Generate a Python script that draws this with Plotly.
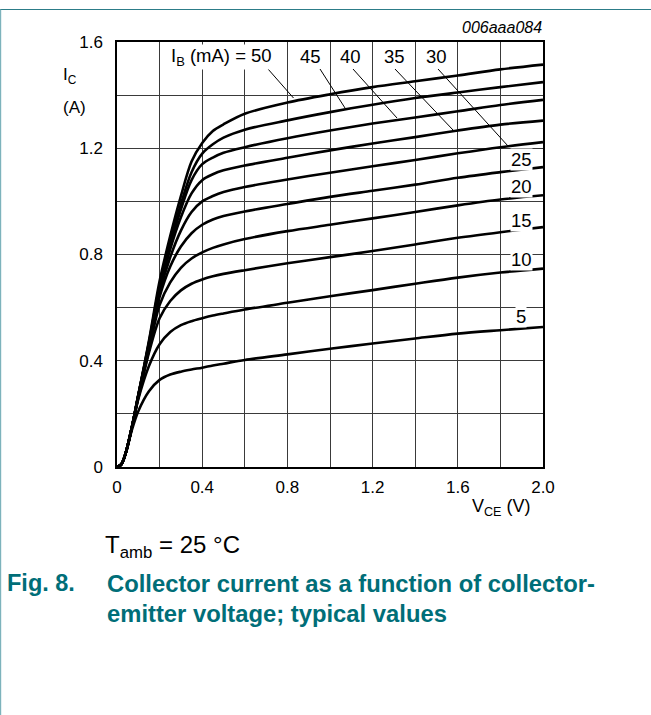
import plotly.graph_objects as go

# ---------------- data ----------------
vce = [0, 0.02, 0.04, 0.07, 0.1, 0.15, 0.2, 0.25, 0.3, 0.35, 0.4, 0.45, 0.5, 0.6,
       0.8, 1.0, 1.2, 1.4, 1.6, 1.8, 2.0]

ib_labels = [5, 10, 15, 20, 25, 30, 35, 40, 45, 50]

ic_5 = [0, 0.01, 0.05, 0.14, 0.21, 0.285, 0.328, 0.348, 0.359, 0.367, 0.374, 0.382, 0.389, 0.403,
        0.424, 0.445, 0.465, 0.484, 0.502, 0.515, 0.527]
ic_10 = [0, 0.01, 0.05, 0.15, 0.255, 0.38, 0.462, 0.508, 0.534, 0.549, 0.56, 0.57, 0.578, 0.593,
         0.618, 0.643, 0.666, 0.69, 0.713, 0.732, 0.747]
ic_15 = [0, 0.01, 0.05, 0.15, 0.26, 0.43, 0.56, 0.625, 0.665, 0.69, 0.706, 0.718, 0.727, 0.741,
         0.767, 0.79, 0.813, 0.838, 0.863, 0.884, 0.903]
ic_20 = [0, 0.01, 0.05, 0.15, 0.265, 0.44, 0.61, 0.695, 0.75, 0.785, 0.808, 0.825, 0.838, 0.858,
         0.888, 0.912, 0.936, 0.96, 0.985, 1.007, 1.023]
ic_25 = [0, 0.01, 0.05, 0.15, 0.265, 0.45, 0.64, 0.755, 0.83, 0.88, 0.912, 0.932, 0.945, 0.962,
         0.99, 1.017, 1.04, 1.063, 1.089, 1.11, 1.129]
ic_30 = [0, 0.01, 0.05, 0.15, 0.27, 0.455, 0.655, 0.79, 0.89, 0.96, 1.0, 1.02, 1.035, 1.054,
         1.082, 1.108, 1.132, 1.156, 1.181, 1.204, 1.223]
ic_35 = [0, 0.01, 0.05, 0.15, 0.27, 0.46, 0.665, 0.82, 0.94, 1.03, 1.08, 1.102, 1.117, 1.135,
         1.164, 1.192, 1.218, 1.242, 1.267, 1.289, 1.304]
ic_40 = [0, 0.01, 0.05, 0.15, 0.27, 0.465, 0.675, 0.835, 0.97, 1.08, 1.14, 1.165, 1.183, 1.204,
         1.238, 1.267, 1.293, 1.316, 1.339, 1.363, 1.382]
ic_45 = [0, 0.01, 0.05, 0.15, 0.27, 0.47, 0.685, 0.85, 0.99, 1.11, 1.18, 1.215, 1.24, 1.27,
         1.305, 1.336, 1.364, 1.389, 1.41, 1.43, 1.449]
ic_50 = [0, 0.01, 0.05, 0.15, 0.27, 0.475, 0.70, 0.87, 1.02, 1.15, 1.22, 1.265, 1.29, 1.33,
         1.372, 1.403, 1.43, 1.452, 1.474, 1.497, 1.515]

x_tickvals = [0, 0.4, 0.8, 1.2, 1.6, 2.0]
x_ticktext = ["0", "0.4", "0.8", "1.2", "1.6", "2.0"]
y_tickvals = [0, 0.4, 0.8, 1.2, 1.6]
y_ticktext = ["0", "0.4", "0.8", "1.2", "1.6"]

curves = [ic_5, ic_10, ic_15, ic_20, ic_25, ic_30, ic_35, ic_40, ic_45, ic_50]

# ---------------- layout geometry ----------------
W, H = 651, 715
L, R, T, B = 117, 108, 42, 248
PW, PH = W - L - R, H - T - B


def px(x):
    return (x - L) / PW


def py(y):
    return (H - B - y) / PH


FONT = "Liberation Sans, Arial, sans-serif"
TEAL = "#006E78"
GRID = "#3a3a3a"

fig = go.Figure()
for ib, ic in zip(ib_labels, curves):
    fig.add_trace(go.Scatter(x=vce, y=ic, mode="lines", name=f"{ib} mA",
                             line=dict(color="black", width=2.6, shape="spline", smoothing=0.9),
                             showlegend=False, hoverinfo="skip"))

annotations = []
inner = [
    ("I<sub>B</sub> (mA) = 50", 221, 57),
    ("45", 310, 57), ("40", 350, 57), ("35", 394, 57), ("30", 436, 57),
    ("25", 521, 159), ("20", 521, 186), ("15", 521, 220), ("10", 521, 259), ("5", 521, 317),
]
for txt, x, y in inner:
    annotations.append(dict(text=txt, x=px(x), y=py(y), xref="paper", yref="paper",
                            showarrow=False, xanchor="center", yanchor="middle",
                            bgcolor="white", borderpad=0,
                            font=dict(family=FONT, size=18.5, color="black")))

annotations += [
    dict(text="I<sub>C</sub>", x=px(61), y=py(76), xanchor="left", yanchor="middle",
         font=dict(family=FONT, size=17, color="black")),
    dict(text="(A)", x=px(61), y=py(108), xanchor="left", yanchor="middle",
         font=dict(family=FONT, size=17, color="black")),
    dict(text="V<sub>CE</sub> (V)", x=px(533), y=py(507), xanchor="right", yanchor="middle",
         font=dict(family=FONT, size=18, color="black")),
    dict(text="<i>006aaa084</i>", x=px(544), y=py(28), xanchor="right", yanchor="middle",
         font=dict(family=FONT, size=16, color="black")),
    dict(text="T<sub>amb</sub> = 25 °C", x=px(103), y=py(546), xanchor="left", yanchor="middle",
         font=dict(family=FONT, size=24, color="black")),
    dict(text="<b>Fig. 8.</b>", x=px(5), y=py(583), xanchor="left", yanchor="middle",
         font=dict(family=FONT, size=23.5, color=TEAL)),
    dict(text="<b>Collector current as a function of collector-</b>", x=px(105), y=py(583),
         xanchor="left", yanchor="middle", font=dict(family=FONT, size=23.8, color=TEAL)),
    dict(text="<b>emitter voltage; typical values</b>", x=px(105), y=py(613),
         xanchor="left", yanchor="middle", font=dict(family=FONT, size=23.8, color=TEAL)),
]
for a in annotations:
    a.setdefault("xref", "paper")
    a.setdefault("yref", "paper")
    a.setdefault("showarrow", False)

leaders = [
    ((268, 69), (293.5, 98)),
    ((320, 69), (345, 108)),
    ((353, 69), (397, 118)),
    ((395, 69), (453, 130)),
    ((438, 69), (508, 146)),
]
shapes = []
for (x0, y0), (x1, y1) in leaders:
    shapes.append(dict(type="line", xref="paper", yref="paper",
                       x0=px(x0), y0=py(y0), x1=px(x1), y1=py(y1),
                       line=dict(color="black", width=1)))
# page frame
shapes.append(dict(type="line", xref="paper", yref="paper", x0=px(0), x1=px(651),
                   y0=py(9.5), y1=py(9.5), line=dict(color="#2c7c88", width=1.2)))
shapes.append(dict(type="line", xref="paper", yref="paper", x0=px(0.6), x1=px(0.6),
                   y0=py(9.5), y1=py(715), line=dict(color="#7db3bc", width=1.2)))

fig.update_layout(
    width=W, height=H,
    margin=dict(l=L, r=R, t=T, b=B, pad=0),
    paper_bgcolor="white", plot_bgcolor="white",
    font=dict(family=FONT, size=17, color="black"),
    annotations=annotations,
    shapes=shapes,
)
fig.update_xaxes(range=[0, 2.0], tickvals=x_tickvals, ticktext=x_ticktext,
                 showgrid=True, gridcolor=GRID, gridwidth=1,
                 minor=dict(dtick=0.2, showgrid=True, gridcolor=GRID, gridwidth=1),
                 showline=True, linecolor="black", linewidth=1.5, mirror=True,
                 ticks="", ticklabelstandoff=4, zeroline=False,
                 tickfont=dict(family=FONT, size=17, color="black"))
fig.update_yaxes(range=[0, 1.6], tickvals=y_tickvals, ticktext=y_ticktext,
                 showgrid=True, gridcolor=GRID, gridwidth=1,
                 minor=dict(dtick=0.2, showgrid=True, gridcolor=GRID, gridwidth=1),
                 showline=True, linecolor="black", linewidth=1.5, mirror=True,
                 ticks="", ticklabelstandoff=9, zeroline=False,
                 tickfont=dict(family=FONT, size=17, color="black"))

fig.write_html("out.html", config={"displayModeBar": False},
               post_script="document.body.style.margin='0';")
